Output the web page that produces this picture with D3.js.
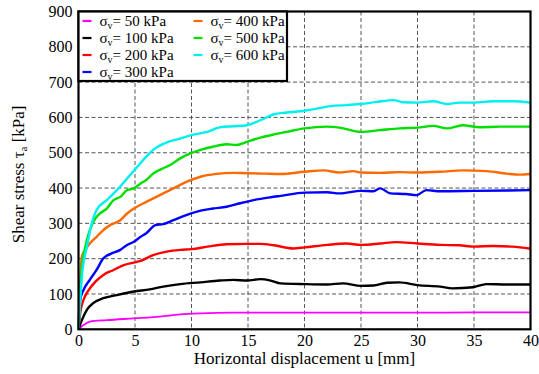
<!DOCTYPE html>
<html><head><meta charset="utf-8">
<script src="https://cdn.jsdelivr.net/npm/d3@7"></script>
<style>body{margin:0;background:#fff}svg{display:block}</style>
</head><body><svg id="c" width="539" height="374"></svg>
<script>
const FONT="Liberation Serif, DejaVu Serif, Times New Roman, serif";
const xTicks=[0,5,10,15,20,25,30,35,40];
const yTicks=[0,100,200,300,400,500,600,700,800,900];
const labels=["50 kPa","100 kPa","200 kPa","300 kPa","400 kPa","500 kPa","600 kPa"];
const colors=["#ff00ff","#000000","#ff0000","#0000ff","#ff6a00","#00e000","#00f0f0"];
const u50=[0,0.44,1,2.5,4.9,7.2,9,10.8,13.7,16.7,20,25,30,35,40];
const t50=[0,12,22,26,31,36,42,45,47,47,47,47,47,48,48];
const u100=[0,0.3,0.74,1.3,2.2,3.4,4.9,6.3,7.5,9,10.8,12.5,13.7,14.9,16.1,17,17.9,20,22,23.4,25,26.1,27.3,28.4,30,32,33.1,34.9,36.1,37.9,40];
const t100=[0,26,55,74,88,97,107,113,121,128,133,138,140,138,142,138,130,128,127,130,123,124,132,133,125,121,116,119,128,127,127];
const u200=[0,0.15,0.44,0.9,1.5,2.2,3.1,4.0,4.9,5.5,6.6,7.8,9,10,11.4,13.1,14.9,16.1,17.3,19,20,22,23.7,25,26.7,28.1,30,32,33.7,35,36.7,38.4,40];
const t200=[0,45,83,111,135,154,168,182,189,194,210,220,225,227,234,241,242,242,238,229,232,239,243,239,243,247,243,239,238,234,236,234,228];
const u300=[0,0.15,0.44,1.0,1.6,2.2,2.8,3.7,4.3,4.9,5.5,6.0,6.8,7.5,8.4,9.6,10.8,11.9,13.1,14.3,15.5,17.0,17.9,20,22,23.1,25,26.1,26.7,27.6,29,29.9,30.8,32,35,40];
const t300=[0,83,111,140,168,201,213,225,239,248,262,272,295,298,309,324,336,342,347,357,366,374,378,387,388,385,392,391,399,385,383,380,394,391,392,394];
const u400=[0,0.3,0.6,1.0,1.6,2.2,2.8,3.7,4.3,4.9,6.0,7.2,8.4,9.6,10.8,12.2,13.7,14.9,16.4,17.9,20,21.7,23.1,24.3,25,26.7,28.4,30,32,34,36.1,37.9,39,40];
const t400=[0,206,225,243,262,281,295,309,328,342,361,380,399,418,432,440,443,442,441,440,446,450,444,448,444,443,445,444,446,450,448,441,438,440];
const u500=[0,0.3,0.6,1.0,1.5,1.9,2.5,3.1,3.7,4.3,4.9,5.5,6.0,6.6,7.5,8.1,9.0,9.9,10.8,11.9,13.1,14.0,14.9,16.1,17.3,18.4,20,22,23.1,25,26.7,28.4,30,31.4,32.6,34,35.5,37.3,40];
const t500=[0,177,234,281,314,328,342,366,375,394,399,413,423,441,456,465,484,498,508,517,524,522,531,543,552,559,569,574,571,559,564,569,571,576,569,578,572,574,574];
const u600=[0,0.3,0.74,1.18,1.6,2.5,3.4,4.3,5.2,6.0,6.6,7.8,9.0,10,11.4,12.5,13.7,14.9,16.1,17.3,18.4,20,21.1,22.3,23.7,25,26.4,27.9,28.7,30,31.4,32.6,33.7,35,36.7,38.4,40];
const t600=[0,150,234,300,338,366,394,427,460,489,508,529,540,550,559,572,575,578,592,609,614,619,625,632,635,638,644,649,643,642,646,638,642,642,646,646,642];
const seriesU=[u50,u100,u200,u300,u400,u500,u600];
const seriesT=[t50,t100,t200,t300,t400,t500,t600];

const svg=d3.select("#c").style("font-family",FONT);
const L=78.5,R=530.5,T=11.5,B=329.3;
const x=d3.scaleLinear().domain([0,40]).range([L,R]);
const y=d3.scaleLinear().domain([0,900]).range([B,T]);

// grid
const g=svg.append("g");
g.selectAll("line.v").data(xTicks.slice(1,-1)).join("line")
 .attr("x1",d=>x(d)).attr("x2",d=>x(d)).attr("y1",T).attr("y2",B)
 .attr("stroke","#444").attr("stroke-width",0.9).attr("stroke-dasharray","4,2.5");
g.selectAll("line.h").data(yTicks.slice(1,-1)).join("line")
 .attr("x1",L).attr("x2",R).attr("y1",d=>y(d)).attr("y2",d=>y(d))
 .attr("stroke","#444").attr("stroke-width",0.9).attr("stroke-dasharray","4,2.5");

// axes
const ax=svg.append("g").attr("transform",`translate(0,${B})`)
 .call(d3.axisBottom(x).tickValues(xTicks).tickSize(0).tickPadding(5));
ax.attr("font-family",null).attr("font-size",16);
ax.select(".domain").remove();
ax.selectAll("text").attr("fill","#000").style("font-family",FONT);
const ay=svg.append("g").attr("transform",`translate(${L},0)`)
 .call(d3.axisLeft(y).tickValues(yTicks).tickSize(0).tickPadding(6));
ay.attr("font-family",null).attr("font-size",16);
ay.select(".domain").remove();
ay.selectAll("text").attr("fill","#000").style("font-family",FONT);

// lines
const line=d3.line().curve(d3.curveMonotoneX);
seriesU.forEach((us,i)=>{
  const pts=us.map((u,j)=>[x(u),y(seriesT[i][j])]);
  svg.append("path").attr("d",line(pts)).attr("fill","none")
   .attr("stroke",colors[i]).attr("stroke-width",i===0?1.8:2.4)
   .attr("stroke-linejoin","round");
});

// border
svg.append("rect").attr("x",L).attr("y",T).attr("width",R-L).attr("height",B-T)
 .attr("fill","none").attr("stroke","#000").attr("stroke-width",2.2);

// legend
const lg=svg.append("g");
lg.append("rect").attr("x",L).attr("y",T).attr("width",287-L).attr("height",81-T)
 .attr("fill","#fff").attr("stroke","#000").attr("stroke-width",2.2);
const legPos=[[0,0],[0,1],[0,2],[0,3],[1,0],[1,1],[1,2]];
labels.forEach((lab,i)=>{
  const [c,r]=legPos[i];
  const lx=c===0?82.5:193.5, ty=21+r*17;
  lg.append("line").attr("x1",lx).attr("x2",lx+9).attr("y1",ty).attr("y2",ty)
   .attr("stroke",colors[i]).attr("stroke-width",2.2);
  const t=lg.append("text").attr("x",lx+17).attr("y",ty+5).attr("font-size",15).attr("fill","#000").style("font-family",FONT);
  t.append("tspan").text("σ");
  t.append("tspan").attr("font-size",10).attr("dy",3).text("v");
  t.append("tspan").attr("dy",-3).text("= "+lab);
});

// axis titles
svg.append("text").attr("x",(L+R)/2).attr("y",364).attr("text-anchor","middle").style("font-family",FONT)
 .attr("font-size",17).attr("fill","#000").text("Horizontal displacement u [mm]");
const yt=svg.append("text").attr("transform",`translate(24,${(T+B)/2+4}) rotate(-90)`).style("font-family",FONT)
 .attr("text-anchor","middle").attr("font-size",17).attr("fill","#000");
yt.append("tspan").text("Shear stress τ");
yt.append("tspan").attr("font-size",11).attr("dy",3).text("a");
yt.append("tspan").attr("dy",-3).text(" [kPa]");
</script></body></html>
